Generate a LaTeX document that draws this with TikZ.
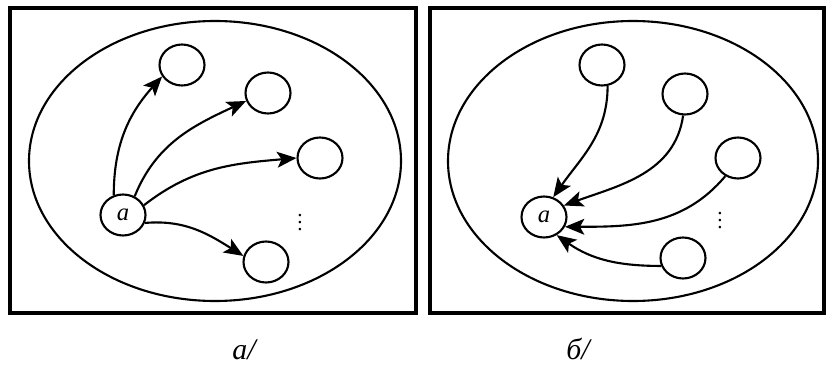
\documentclass[tikz,border=0pt]{standalone}
\usepackage{fontspec}
\setmainfont{Liberation Serif}
\usetikzlibrary{arrows.meta,shapes.geometric}
\begin{document}
\begin{tikzpicture}[x=0.02cm,y=-0.02cm,
  vertex/.style={draw,ellipse,line width=1.2pt,minimum width=0.9cm,minimum height=0.82cm,inner sep=0pt,font=\fontsize{14}{16}\selectfont\itshape},
  link/.style={line width=1.2pt,-{Stealth[length=11pt,width=9pt,inset=2.5pt]}},
  frame/.style={line width=2pt},
  set/.style={line width=1.2pt},
  caption/.style={anchor=base,font=\fontsize{17}{20}\selectfont\itshape}]
\useasboundingbox (0,0) rectangle (826,365);
\draw[frame] (10,8) rectangle (416,313);
\draw[set] (215,161) ellipse [x radius=186,y radius=140];
\node[vertex] (src) at (123,215) {a};
\node[vertex] (t1) at (182,65) {};
\node[vertex] (t2) at (268,93) {};
\node[vertex] (t3) at (320,158) {};
\node[vertex] (t4) at (266,262) {};
\node (tdots) at (300,217) {\large$\vdots$};
\draw[link] (src.115) to[out=90,in=228] (t1.210);
\draw[link] (src.58) to[out=68,in=205] (t2.200);
\draw[link] (src.25) to[out=38,in=185] (t3.180);
\draw[link] (src.340) to[out=5,in=148] (t4.165);
\draw[frame] (430,8) rectangle (824,313);
\draw[set] (633,161) ellipse [x radius=185,y radius=140];
\node[vertex] (dst) at (544,217) {a};
\node[vertex] (s1) at (602,65) {};
\node[vertex] (s2) at (685,94) {};
\node[vertex] (s3) at (738,158) {};
\node[vertex] (s4) at (683,258) {};
\node (sdots) at (720,215) {\large$\vdots$};
\draw[link] (s1.285) to[out=270,in=55] (dst.65);
\draw[link] (s2.265) to[out=262,in=20] (dst.30);
\draw[link] (s3.235) to[out=230,in=0] (dst.335);
\draw[link] (s4.200) to[out=180,in=325] (dst.305);
\node[caption] (cap1) at (244,359) {а/};
\node[caption] (cap2) at (578,359) {б/};
\end{tikzpicture}
\end{document}
